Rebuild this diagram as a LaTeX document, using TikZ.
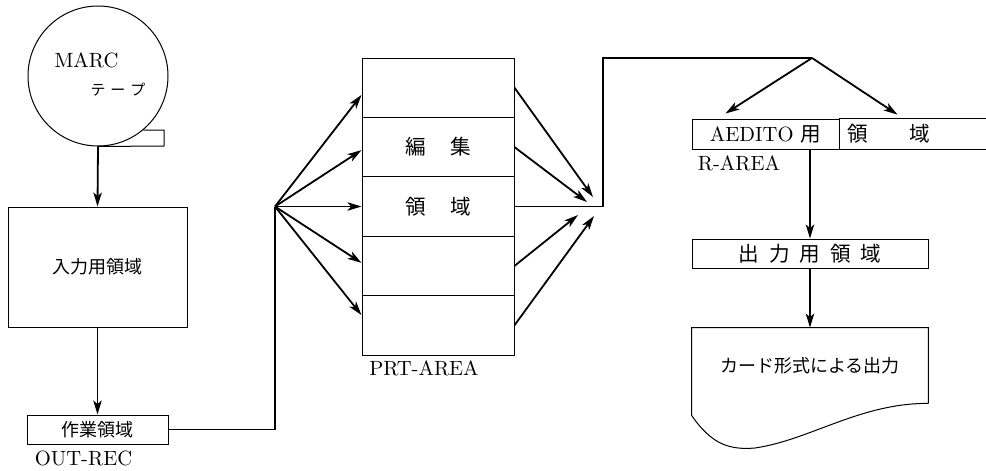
\documentclass[tikz,border=0pt]{standalone}
\usepackage{fontspec}
\newfontfamily\jp{Noto Sans CJK JP}
\usepackage{tikz}
\usetikzlibrary{arrows.meta}

\begin{document}
\begin{tikzpicture}[x=0.5pt,y=-0.5pt,
  font=\fontsize{10.3}{12}\selectfont,
  area/.style={draw,line width=0.5pt,inner sep=0pt},
  cell/.style={area,minimum width=76pt,minimum height=29.7pt},
  conn/.style={line width=0.9pt},
  arr/.style={conn,-{Stealth[length=7pt,width=4.2pt,inset=1.8pt]}}]
  \useasboundingbox (0,0) rectangle (986,471);
  \node[area,circle,minimum size=70pt] (tape) at (98,76) {};
  \coordinate (tail) at (164,146);
  \draw[line width=0.5pt] (tape.-50) -| (tail) -- (tape.south);
  \node (marc) at (86.5,60) {MARC};
  \node (tapetxt) at (118,90) {\jp\fontsize{7.5}{8}\selectfont テ\hspace{2.5pt}ー\hspace{2.5pt}プ};
  \node[area,minimum width=89.5pt,minimum height=60pt] (inarea) at (97.5,267) {\jp\fontsize{9}{10}\selectfont 入力用領域};
  \node[area,minimum width=70.5pt,minimum height=14.5pt] (work) at (97.5,429.5) {\jp\fontsize{9}{10}\selectfont 作業領域};
  \node[anchor=north west,inner sep=2pt] (outrec) at ([xshift=2pt,yshift=-1pt]work.south west) {OUT-REC};
  \draw[arr] (tape.south) -- (inarea.north);
  \draw[arr] (inarea.south) -- (work.north);

  \foreach \i/\y/\txt in {1/87.7/{},2/147.1/{\jp 編\hspace{12pt}集},3/206.5/{\jp 領\hspace{12pt}域},4/265.9/{},5/325.3/{}}
    \node[cell] (prt\i) at (438,\y) {\txt};
  \node (prtlabel) at (424,368) {PRT-AREA};

  \coordinate (fan) at (275,206.5);
  \draw[conn] (work.east) -| (fan);
  \foreach \i/\s in {1/-3.6,2/-1.5,3/0,4/1.5,5/5.1}
    \draw[arr] (fan) -- ([yshift=\s pt]prt\i.west);

  \coordinate (e1) at (593,197);
  \coordinate (e2) at (587,202);
  \coordinate (e4) at (578,215);
  \coordinate (e5) at (594,216);
  \foreach \i in {1,2,4,5}
    \draw[arr] (prt\i.east) -- (e\i);

  \coordinate (join) at (603,206.5);
  \coordinate (top) at (812,58);
  \draw[conn] (prt3.east) -- (join) |- (top);

  \node[area,minimum width=73.5pt,minimum height=15pt] (aeditL) at (765.5,134) {AEDITO {\jp 用}\hspace{6pt}};
  \node[inner sep=0pt,minimum height=15pt] (aeditR) at (912.5,134) {\makebox[73.5pt][l]{\hspace{4pt}{\jp 領}\hspace{21pt}{\jp 域}}};
  \draw[line width=0.5pt] (aeditR.north west) -- (aeditR.north east)
    (aeditR.south west) -- (aeditR.south east);
  \node[anchor=north west,inner sep=2pt] (rarea) at ([xshift=1pt,yshift=-1pt]aeditL.south west) {R-AREA};
  \draw[arr] (top) -- ([xshift=-20pt,yshift=2.5pt]aeditL.north);
  \draw[arr] (top) -- ([xshift=-7.5pt,yshift=2pt]aeditR.north);

  \node[area,minimum width=118pt,minimum height=14.5pt] (out) at (810,253.5)
    {\jp 出\hspace{5pt}力\hspace{5pt}用\hspace{5pt}領\hspace{5pt}域};
  \draw[arr] (aeditL.south -| out.north) -- (out.north);

  \node[inner sep=0pt,minimum width=118pt,minimum height=37.5pt] (card) at (810,365.5) {\jp\fontsize{9}{10}\selectfont カード形式による出力};
  \draw[line width=0.5pt] (card.south east) -- (card.north east) -- (card.north west)
    -- ([yshift=-6pt]card.south west) .. controls (712,445) and (730,450) .. (755,448)
    .. controls (810,440) and (860,403) .. (card.south east);
  \draw[arr] (out.south) -- (card.north);
\end{tikzpicture}
\end{document}
